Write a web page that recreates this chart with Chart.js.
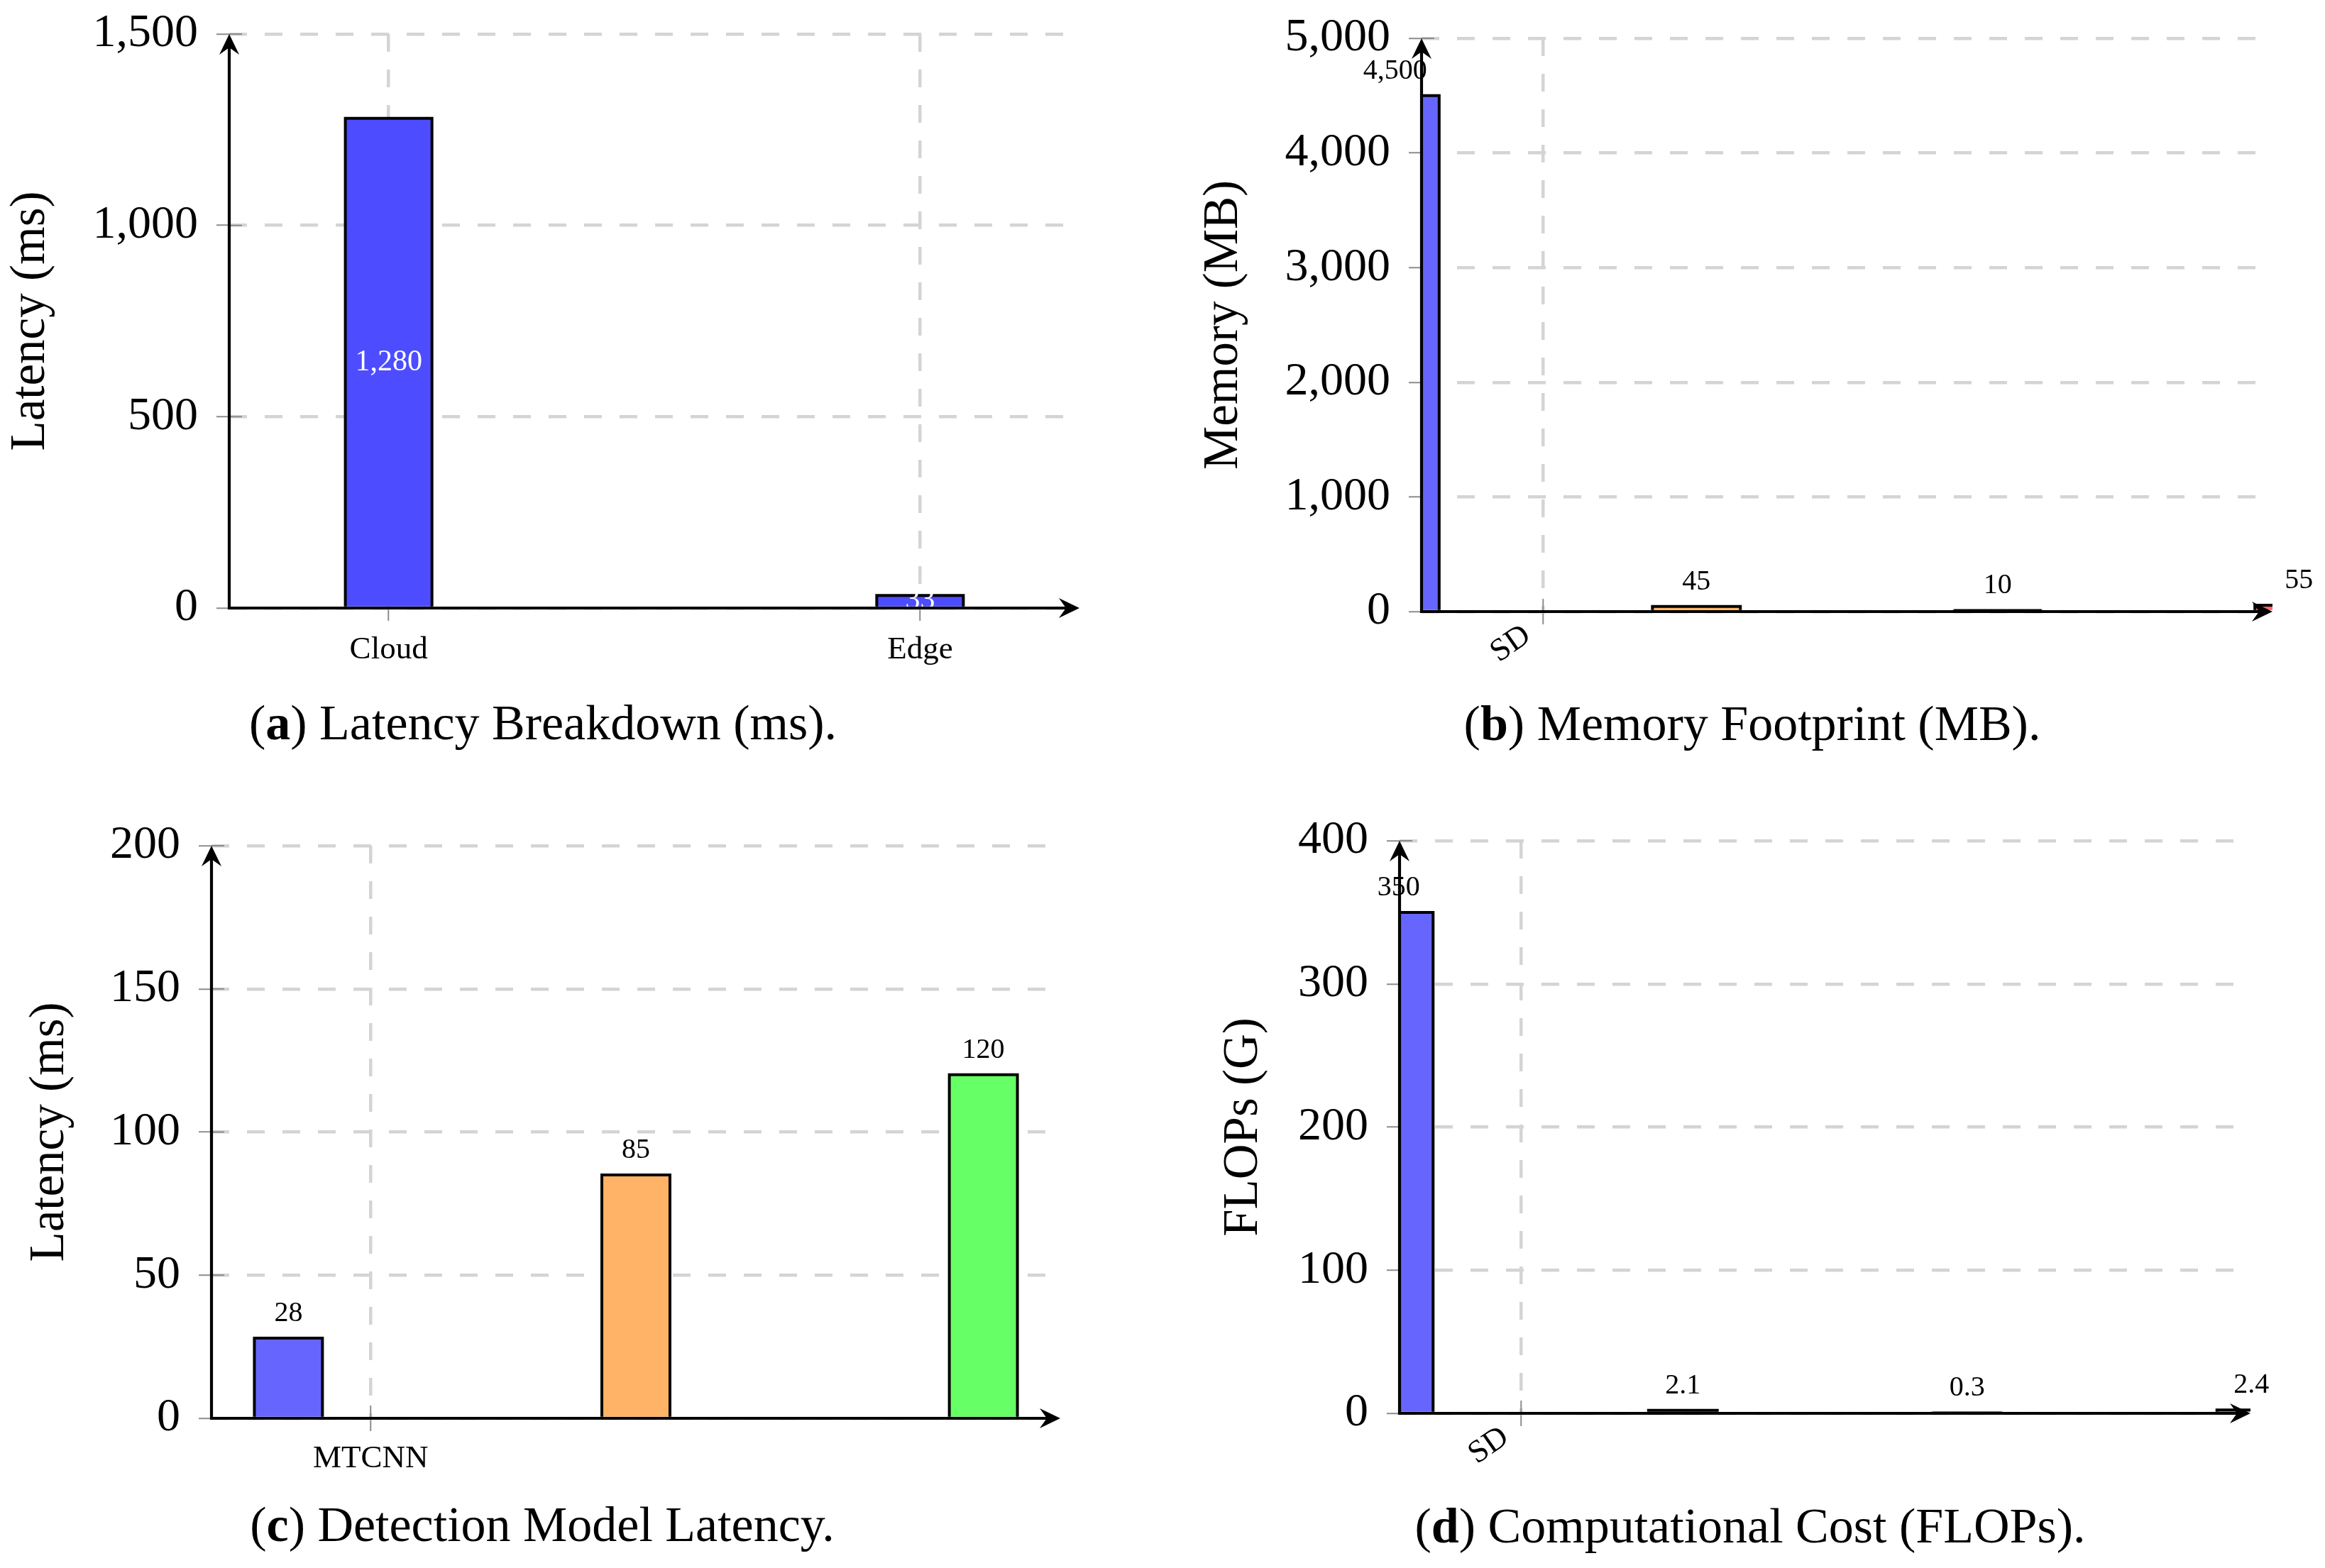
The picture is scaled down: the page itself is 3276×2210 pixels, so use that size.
<!DOCTYPE html>
<html><head><meta charset="utf-8">
<script src="https://cdn.jsdelivr.net/npm/chart.js@4.4.1/dist/chart.umd.min.js"></script>
<style>
html,body{margin:0;padding:0;background:#fff;width:3276px;height:2210px;overflow:hidden}
canvas{position:absolute}
.cap{position:absolute;font-family:"Liberation Serif","Times New Roman",serif;font-size:70px;line-height:70px;white-space:nowrap;transform:translateX(-50%);color:#000}
</style></head><body>
<canvas id="cA" width="1638" height="1105" style="left:0px;top:0px"></canvas>
<canvas id="cB" width="1638" height="1105" style="left:1638px;top:0px"></canvas>
<canvas id="cC" width="1638" height="1105" style="left:0px;top:1105px"></canvas>
<canvas id="cD" width="1638" height="1105" style="left:1638px;top:1105px"></canvas>
<div class="cap" style="left:765px;top:984px">(<b>a</b>) Latency Breakdown (ms).</div>
<div class="cap" style="left:2469px;top:985px">(<b>b</b>) Memory Footprint (MB).</div>
<div class="cap" style="left:764px;top:2114px">(<b>c</b>) Detection Model Latency.</div>
<div class="cap" style="left:2466px;top:2116px">(<b>d</b>) Computational Cost (FLOPs).</div>
<script>
// ---- data ----
const latencyCategories = ['Cloud', 'Edge'];
const latencyValues = [1280, 33];
const memoryCategories = ['SD'];
const memoryValues = [4500, 45, 10, 55];
const detectionCategories = ['MTCNN'];
const detectionValues = [28, 85, 120];
const flopsCategories = ['SD'];
const flopsValues = [350, 2.1, 0.3, 2.4];
const latencyYTicks = { max: 1500, step: 500 };
const memoryYTicks = { max: 5000, step: 1000 };
const detectionYTicks = { max: 200, step: 50 };
const flopsYTicks = { max: 400, step: 100 };
const seriesColors = ['#6666ff', '#ffb366', '#66ff66', '#ff6666'];
const latencyColor = '#4d4dff';

const FONT = '"Liberation Serif", "Times New Roman", serif';
const GRID = '#d4d4d4', TICK = '#8c8c8c';

const pgfPlugin = {
  id: 'pgf',
  beforeDatasetsDraw(chart) {
    const ctx = chart.ctx, a = chart.chartArea;
    const xs = chart.scales.x, ys = chart.scales.y;
    ctx.save();
    ctx.strokeStyle = TICK; ctx.lineWidth = 2;
    ctx.beginPath();
    ys.ticks.forEach(t => { const y = ys.getPixelForValue(t.value); ctx.moveTo(a.left, y); ctx.lineTo(a.left + 18, y); });
    xs.ticks.forEach(t => { const x = xs.getPixelForValue(t.value); ctx.moveTo(x, a.bottom); ctx.lineTo(x, a.bottom - 18); });
    ctx.stroke();
    ctx.restore();
  },
  afterDatasetsDraw(chart, args, opts) {
    const ctx = chart.ctx, a = chart.chartArea;
    // bar outlines (stroke centred on the bar edge, like the original)
    ctx.save();
    ctx.beginPath(); ctx.rect(a.left, a.top - 10, a.right - a.left, a.bottom - a.top + 10); ctx.clip();
    ctx.strokeStyle = '#000'; ctx.lineWidth = 4; ctx.lineJoin = 'miter';
    chart.data.datasets.forEach((ds, di) => {
      chart.getDatasetMeta(di).data.forEach(el => {
        const p = el.getProps(['x', 'y', 'base', 'width'], true);
        const l = p.x - p.width / 2, r = p.x + p.width / 2;
        ctx.beginPath(); ctx.moveTo(l, p.base); ctx.lineTo(l, p.y); ctx.lineTo(r, p.y); ctx.lineTo(r, p.base); ctx.stroke();
      });
    });
    ctx.restore();
    // value labels
    ctx.save();
    ctx.font = opts.labelSize + 'px ' + FONT;
    ctx.textAlign = 'center';
    chart.data.datasets.forEach((ds, di) => {
      const meta = chart.getDatasetMeta(di);
      meta.data.forEach((el, i) => {
        const v = ds.data[i].y;
        const p = el.getProps(['x', 'y', 'base'], true);
        const txt = v.toLocaleString('en-US');
        if (opts.labelMode === 'inside') {
          ctx.fillStyle = '#fff'; ctx.textBaseline = 'middle';
          ctx.fillText(txt, p.x, (p.y + p.base) / 2);
        } else {
          ctx.fillStyle = '#000'; ctx.textBaseline = 'alphabetic';
          ctx.fillText(txt, p.x, p.y - opts.gap);
        }
      });
    });
    // axis lines
    ctx.strokeStyle = '#000'; ctx.fillStyle = '#000'; ctx.lineWidth = 4.2; ctx.lineJoin = 'miter';
    ctx.beginPath();
    ctx.moveTo(a.left, a.top + 12);
    ctx.lineTo(a.left, a.bottom);
    ctx.lineTo(a.right - 12, a.bottom);
    ctx.stroke();
    const head = (tx, ty, dx, dy) => {
      const px = -dy, py = dx;
      ctx.beginPath();
      ctx.moveTo(tx, ty);
      ctx.lineTo(tx - dx * 29 + px * 14, ty - dy * 29 + py * 14);
      ctx.lineTo(tx - dx * 19, ty - dy * 19);
      ctx.lineTo(tx - dx * 29 - px * 14, ty - dy * 29 - py * 14);
      ctx.closePath(); ctx.fill();
    };
    head(a.right, a.bottom, 1, 0);
    head(a.left, a.top, 0, -1);
    ctx.restore();
  }
};

function buildPanel(cfg) {
  const canvas = document.getElementById(cfg.id);
  const L = cfg.L, T = cfg.T, W = canvas.width, H = canvas.height;
  const datasets = cfg.grouped
    ? cfg.values.map((v, i) => ({ label: 's' + i, data: [{ x: i, y: v }], backgroundColor: cfg.colors[i] }))
    : [{ label: 's0', data: cfg.values.map((v, i) => ({ x: i, y: v })), backgroundColor: cfg.colors[0] }];
  datasets.forEach(d => Object.assign(d, {
    borderWidth: 0, inflateAmount: 0,
    categoryPercentage: cfg.catPct, barPercentage: cfg.barPct, clip: 0
  }));
  const gridOpts = { color: GRID, lineWidth: 4.5, tickLength: 18, tickColor: TICK, tickWidth: 2, offset: false };
  new Chart(canvas, {
    type: 'bar',
    data: { datasets },
    options: {
      responsive: false, animation: false, devicePixelRatio: 1, locale: 'en-US',
      layout: { padding: { left: 0, top: cfg.area.top - T, right: L + W - cfg.area.right, bottom: 0 } },
      plugins: { legend: { display: false }, tooltip: { enabled: false },
        pgf: { labelMode: cfg.labelMode, labelSize: cfg.labelSize, gap: 24 } },
      scales: {
        x: {
          type: 'linear', position: 'bottom', min: cfg.xMin, max: cfg.xMax, offset: false,
          afterBuildTicks: s => { s.ticks = cfg.categories.map((c, i) => ({ value: i })); },
          afterFit: s => { s.height = T + H - cfg.area.bottom; s.paddingLeft = 0; s.paddingRight = 0; s.paddingTop = 0; s.paddingBottom = 0; },
          ticks: { autoSkip: false, callback: v => cfg.categories[v], font: { family: FONT, size: 45 },
            color: '#000', padding: cfg.xPad, minRotation: cfg.rot, maxRotation: cfg.rot, labelOffset: cfg.labelOffset },
          grid: gridOpts,
          border: { display: false, dash: [25, 25] }
        },
        y: {
          type: 'linear', min: 0, max: cfg.yTicks.max,
          afterFit: s => { s.width = cfg.area.left - L; s.paddingTop = 0; s.paddingBottom = 0; s.paddingLeft = 0; s.paddingRight = 0; },
          ticks: { stepSize: cfg.yTicks.step, font: { family: FONT, size: 66 }, color: '#000', padding: 26 },
          grid: gridOpts,
          border: { display: false, dash: [25, 25] },
          title: { display: true, text: cfg.yTitle, color: '#000', font: { family: FONT, size: 69, lineHeight: 1 },
            padding: { top: cfg.titleX - L - 34.5, bottom: 0 } }
        }
      }
    },
    plugins: [pgfPlugin]
  });
}

buildPanel({ id: 'cA', L: 0, T: 0, area: { left: 323, right: 1521, top: 48, bottom: 857 },
  grouped: false, values: latencyValues, categories: latencyCategories, colors: [latencyColor],
  catPct: 1, barPct: 0.163, xMin: -0.3, xMax: 1.3, yTicks: latencyYTicks, yTitle: 'Latency (ms)', titleX: 44,
  labelMode: 'inside', labelSize: 42, xPad: 14, rot: 0, labelOffset: 0 });

buildPanel({ id: 'cB', L: 1638, T: 0, area: { left: 2003, right: 3202, top: 54, bottom: 862 },
  grouped: true, values: memoryValues, categories: memoryCategories, colors: seriesColors,
  catPct: 1.947, barPct: 0.892, xMin: -0.6, xMax: 3.6, yTicks: memoryYTicks, yTitle: 'Memory (MB)', titleX: 1725,
  labelMode: 'above', labelSize: 40, xPad: -10.7, rot: 35, labelOffset: -22 });

buildPanel({ id: 'cC', L: 0, T: 1105, area: { left: 298, right: 1494, top: 1192, bottom: 1999 },
  grouped: true, values: detectionValues, categories: detectionCategories, colors: seriesColors,
  catPct: 0.93, barPct: 0.828, xMin: -0.6, xMax: 2.6, yTicks: detectionYTicks, yTitle: 'Latency (ms)', titleX: 71,
  labelMode: 'above', labelSize: 40, xPad: 12, rot: 0, labelOffset: 0 });

buildPanel({ id: 'cD', L: 1638, T: 1105, area: { left: 1972, right: 3171, top: 1185, bottom: 1992 },
  grouped: true, values: flopsValues, categories: flopsCategories, colors: seriesColors,
  catPct: 1.611, barPct: 0.843, xMin: -0.6, xMax: 3.6, yTicks: flopsYTicks, yTitle: 'FLOPs (G)', titleX: 1753,
  labelMode: 'above', labelSize: 40, xPad: -10.7, rot: 35, labelOffset: -22 });
</script>
</body></html>
